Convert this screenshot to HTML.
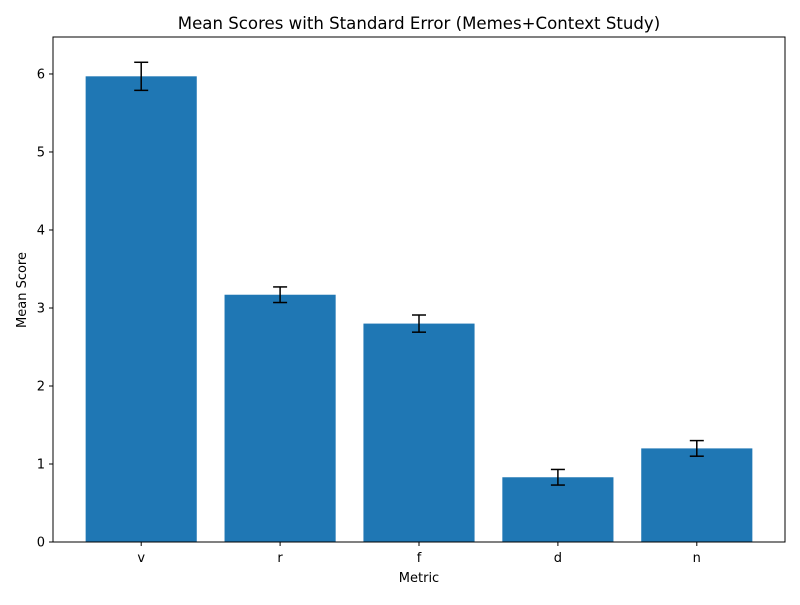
<!DOCTYPE html>
<html><head><meta charset="utf-8"><style>
body{margin:0;background:#fff;font-family:"Liberation Sans","DejaVu Sans",sans-serif}
svg text{font-family:"DejaVu Sans","Liberation Sans",sans-serif}
</style></head><body>
<svg id="c" width="800" height="600" xmlns="http://www.w3.org/2000/svg">
<rect width="800" height="600" fill="#fff"/>
<text x="419" y="29" font-size="16.6" text-anchor="middle">Mean Scores with Standard Error (Memes+Context Study)</text>
<text x="419" y="582" font-size="13" text-anchor="middle">Metric</text>
<text transform="translate(26,290) rotate(-90)" font-size="13" text-anchor="middle">Mean Score</text>
<g id="bars"></g><g id="axes"></g>
</svg>
<script>
const categories=["v","r","f","d","n"];
const means=[5.97,3.17,2.80,0.83,1.20];
const errors=[0.18,0.10,0.11,0.10,0.10];
const yTicks=[0,1,2,3,4,5,6];
const L=53,R=785,T=37,B=542,yMax=6.474,xMin=-0.635,xMax=4.635;
const ns="http://www.w3.org/2000/svg";
const y=v=>B-(v/yMax)*(B-T);
const x=i=>L+(i-xMin)/(xMax-xMin)*(R-L);
const bw=0.8*(R-L)/(xMax-xMin);
function mk(tag,attrs,parent){const e=document.createElementNS(ns,tag);for(const k in attrs)e.setAttribute(k,attrs[k]);parent.appendChild(e);return e;}
const bars=document.getElementById('bars'),axes=document.getElementById('axes');
categories.forEach((c,i)=>{
 const r=mk('rect',{x:x(i)-bw/2,y:y(means[i]),width:bw,height:B-y(means[i]),fill:'#1f77b4'},bars);
 
 
 const g=mk('g',{stroke:'#000','stroke-width':1.5},bars);
 
 
 const y1=y(means[i]+errors[i]),y2=y(means[i]-errors[i]);
 mk('line',{x1:x(i),x2:x(i),y1:y1,y2:y2},g);
 mk('line',{x1:x(i)-7,x2:x(i)+7,y1:y1,y2:y1},g);
 mk('line',{x1:x(i)-7,x2:x(i)+7,y1:y2,y2:y2},g);
 mk('line',{x1:x(i),x2:x(i),y1:B,y2:B+4,stroke:'#000'},axes);
 const t=mk('text',{x:x(i),y:B+20,'font-size':13,'text-anchor':'middle'},axes);
 t.textContent=c;
 
 
});
yTicks.forEach(v=>{
 mk('line',{x1:L-4,x2:L,y1:y(v),y2:y(v),stroke:'#000'},axes);
 const t=mk('text',{x:L-8,y:y(v)+4.5,'font-size':13,'text-anchor':'end'},axes);
 t.textContent=v;
 
 
});
const f=mk('rect',{x:L,y:T,width:R-L,height:B-T,fill:'none',stroke:'#000','stroke-width':1},axes);


</script>
</body></html>
